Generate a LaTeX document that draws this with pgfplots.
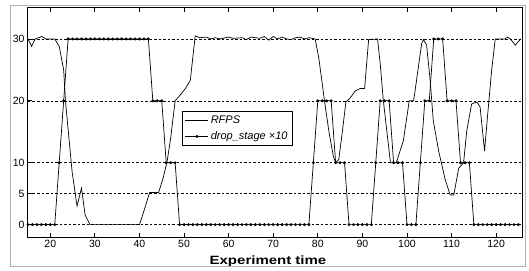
\documentclass[border=0pt]{standalone}
\usepackage{pgfplots}
\pgfplotsset{compat=1.18}
\usepackage{fontspec}
\setmainfont{Liberation Sans}
\begin{document}
\begin{tikzpicture}[x=1pt,y=1pt]
\begin{axis}[
 scale only axis, width=494pt, height=229pt,
 xmin=15, xmax=125.8, ymin=-2, ymax=35,
 xtick={20,30,...,120}, ytick={0,5,10,20,30},
 tick align=inside, xtick pos=both, ytick pos=left, major tick length=4pt,
 ymajorgrids, grid style={black, dash pattern=on 2.5pt off 2pt, line width=0.5pt},
 axis line style={line width=1pt},
 tick style={black, line width=0.8pt},
 ticklabel style={font=\fontsize{10.5}{12}\selectfont},
 /pgf/number format/assume math mode=true,
 xlabel={\scalebox{1.25}[1]{\textbf{Experiment time}}},
 xlabel style={font=\fontsize{12}{14}\selectfont, yshift=-1pt, xshift=-7pt},
 legend style={at={(axis cs:49.6,18.4)}, anchor=north west, draw=black, line width=0.6pt,
   font=\fontsize{11}{13}\selectfont\itshape, row sep=3pt, inner sep=2.5pt},
 legend cell align=left,
 legend image code/.code={\draw[mark repeat=2,mark phase=2,#1] plot coordinates {(0pt,0pt)(11.5pt,0pt)(23pt,0pt)};},
]
\addplot[black, line width=0.7pt] coordinates {
(15,30) (15.8,28.8) (16.6,30) (18.1,30.4) (19,30) (21,30) (22,28.8) (23,25) (23.4,20)
(24.1,14.6) (24.9,8.5) (26,3) (27,5.9) (27.8,1.6) (28.9,0) (40,0) (41,2.2) (42.3,5.2)
(44.3,5.2) (45.3,7.5) (46.2,10.2) (47,14) (48,20) (49,20.8) (50.3,22) (51.4,23.3)
(52.5,30.5) (53.5,30.2) (55,30.3) (56,30) (57,30.2) (58,30) (60,30.3) (61,30.1) (63,30.2)
(64,29.9) (65,30.3) (67,30.1) (68,30.4) (69,29.8) (70,30.4) (71,30) (72,30.3) (73,30)
(74,29.9) (75,30.2) (76,30.3) (77,30) (78,30.2) (79.4,30) (80.2,27) (80.9,23.3) (81.5,20)
(82.5,15) (83.5,11) (84,10) (84.7,10.5) (85.5,15) (86.3,19.8) (87.3,20.5) (88.4,21.6)
(89.5,22) (90.5,22) (91.4,29.9) (93.4,30) (94,26) (94.7,20) (96.3,10) (97.6,10)
(99.2,13.6) (100.5,20) (101.5,20) (103.3,29.3) (103.7,29.9) (104.4,29) (105.2,23.3)
(105.9,16.8) (107.1,11.9) (108.6,7.2) (109.7,4.8) (110.5,4.8) (111.6,9.1) (112.7,10)
(113.4,15.1) (114.5,19.5) (115.7,19.8) (116.4,19) (117.4,11.9) (118.1,17.8) (119,25)
(119.8,30) (122,30) (122.5,30.3) (123.2,30) (124.3,29) (125.5,30)
};
\addlegendentry{RFPS}
\addplot[black, line width=0.7pt, mark=*, mark size=1.1pt] coordinates {
(15,0) (16,0) (17,0) (18,0) (19,0) (20,0) (21,0) (22,10) (23,20) (24,30) (25,30) (26,30)
(27,30) (28,30) (29,30) (30,30) (31,30) (32,30) (33,30) (34,30) (35,30) (36,30) (37,30)
(38,30) (39,30) (40,30) (41,30) (42,30) (43,20) (44,20) (45,20) (46,10) (47,10) (48,10)
(49,0) (50,0) (51,0) (52,0) (53,0) (54,0) (55,0) (56,0) (57,0) (58,0) (59,0) (60,0)
(61,0) (62,0) (63,0) (64,0) (65,0) (66,0) (67,0) (68,0) (69,0) (70,0) (71,0) (72,0)
(73,0) (74,0) (75,0) (76,0) (77,0) (78,0) (79,10) (80,20) (81,20) (82,20) (83,20)
(84,10) (85,10) (86,10) (87,0) (88,0) (89,0) (90,0) (91,0) (92,0) (93,10) (94,20)
(95,20) (96,20) (97,10) (98,10) (99,10) (100,0) (101,0) (102,0) (103,10) (104,20)
(105,20) (106,30) (107,30) (108,30) (109,20) (110,20) (111,20) (112,10) (113,10)
(114,10) (115,0) (116,0) (117,0) (118,0) (119,0) (120,0) (121,0) (122,0) (123,0)
(124,0) (125,0)
};
\addlegendentry{drop\_stage ×10\hspace{8pt}}
\end{axis}
\draw[gray!60, line width=0.6pt] (-18,232) rectangle (497,-29);
\pgfresetboundingbox
\path[use as bounding box] (-28,-33) rectangle (501,237);
\end{tikzpicture}
\end{document}
